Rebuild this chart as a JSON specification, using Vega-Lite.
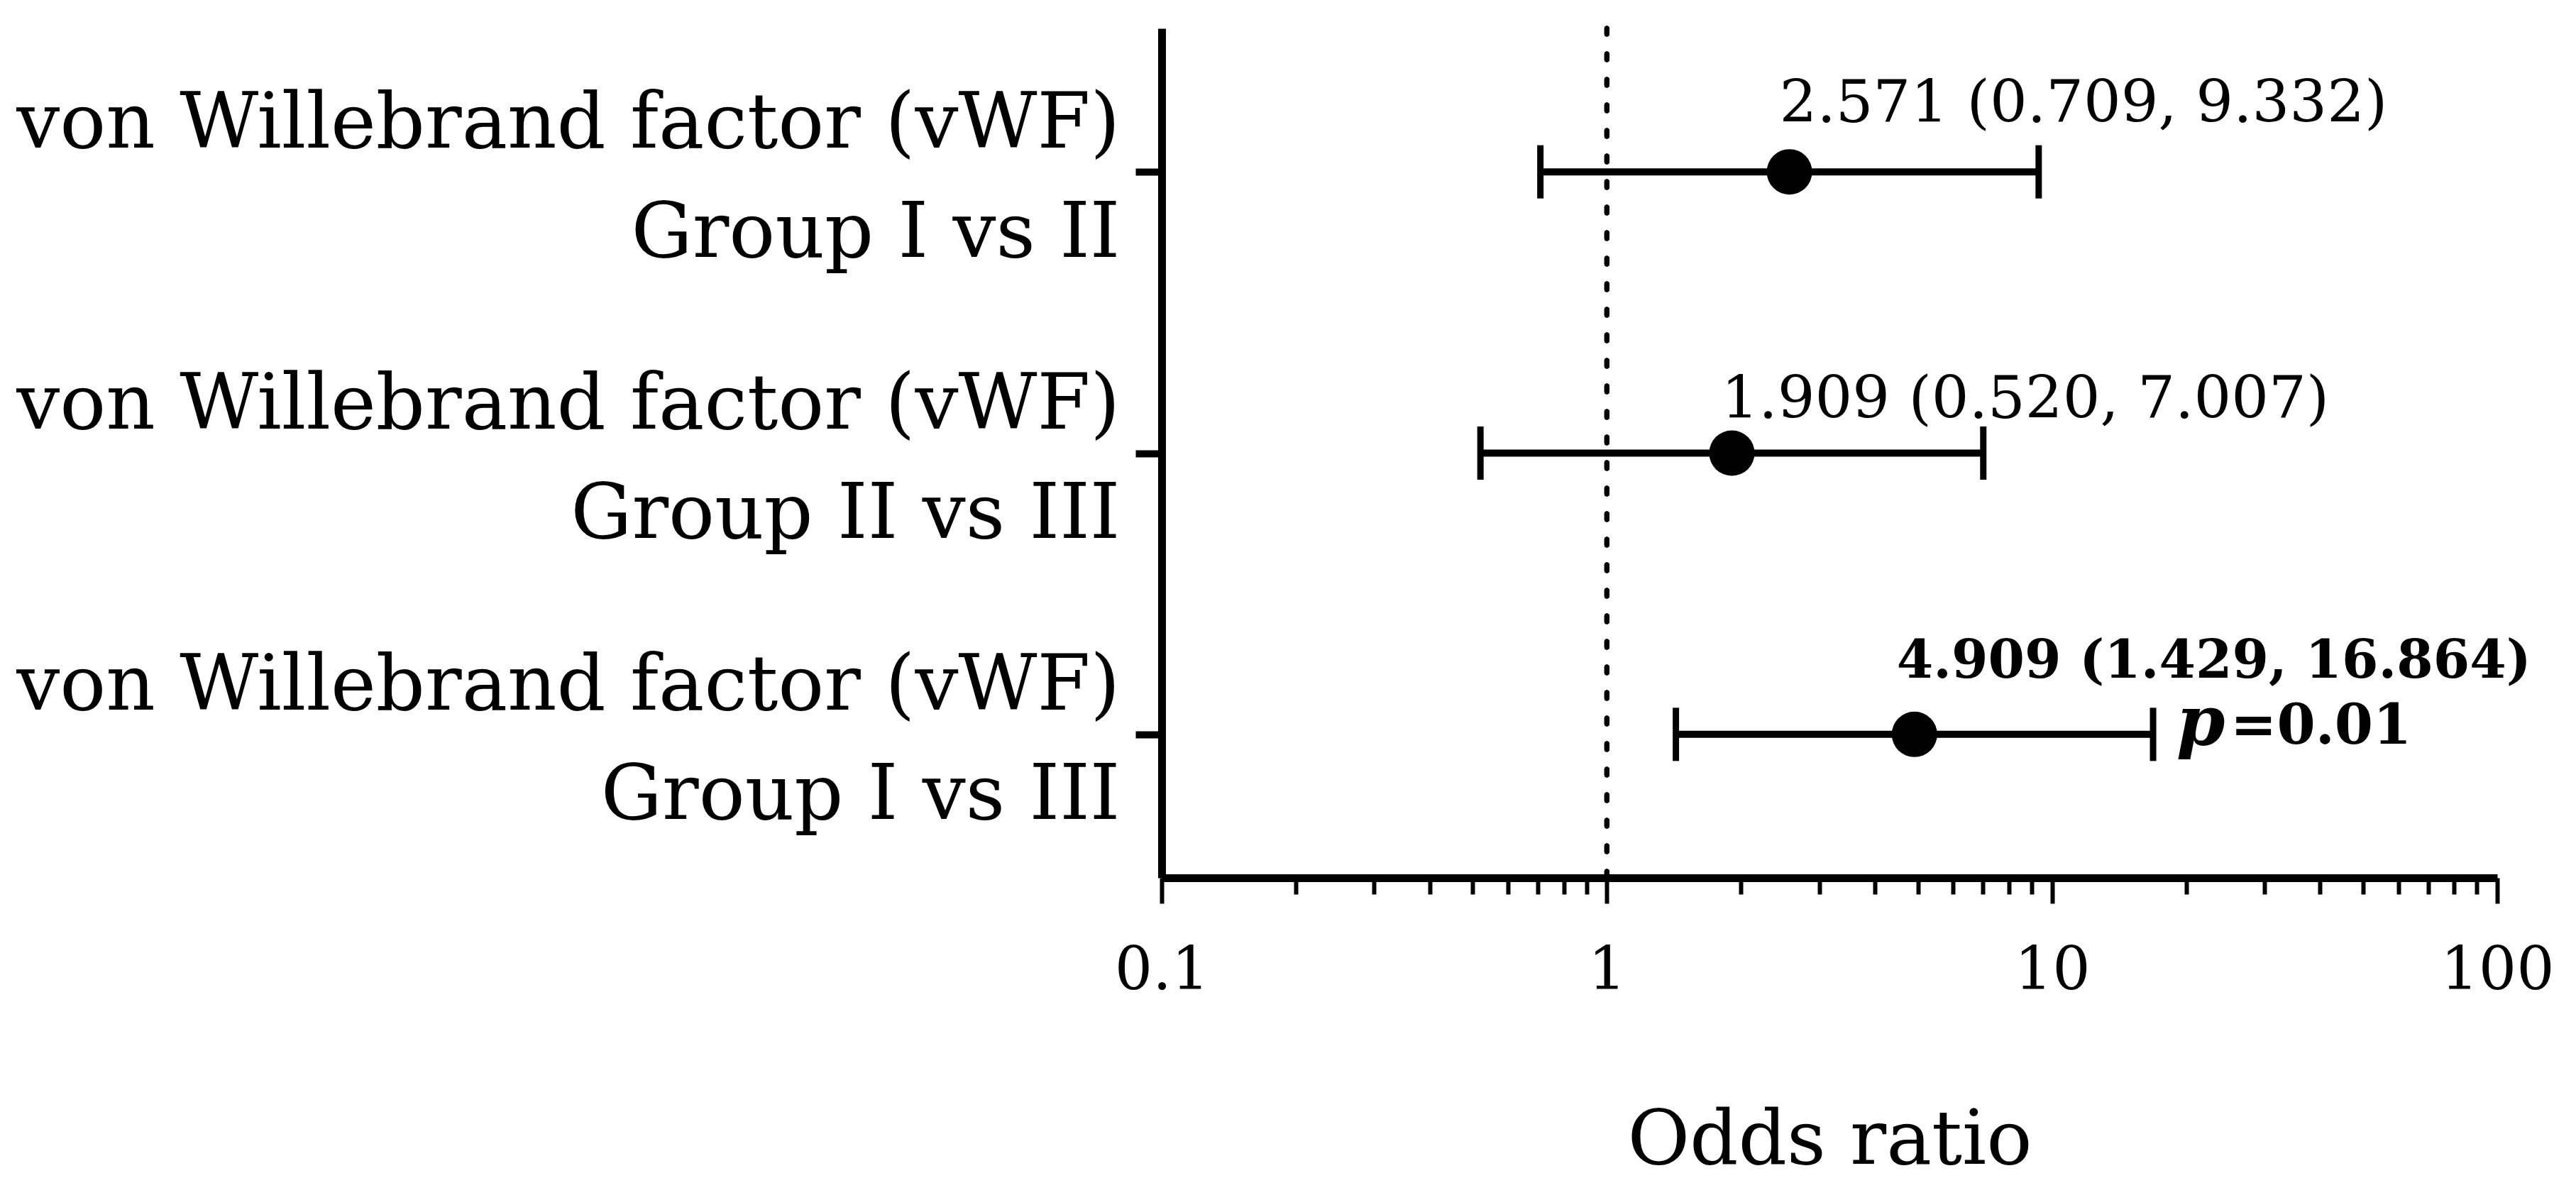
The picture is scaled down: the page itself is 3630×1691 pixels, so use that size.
{
  "$schema": "https://vega.github.io/schema/vega-lite/v6.json",
  "autosize": {"type": "none"},
  "padding": {"left": 1637, "top": 40, "right": 111, "bottom": 454},
  "width": 1882,
  "height": 1197,
  "background": "white",
  "config": {
    "view": {"stroke": null},
    "font": "DejaVu Serif",
    "axis": {"grid": false, "domainColor": "black", "tickColor": "black", "labelColor": "black", "titleColor": "black", "labelFont": "DejaVu Serif", "titleFont": "DejaVu Serif"}
  },
  "data": {
    "values": [
      {"label": "von Willebrand factor (vWF)|Group I vs II", "row": 1, "or": 2.571, "lo": 0.709, "hi": 9.332, "ci_text": "2.571 (0.709, 9.332)", "p_text": null},
      {"label": "von Willebrand factor (vWF)|Group II vs III", "row": 2, "or": 1.909, "lo": 0.520, "hi": 7.007, "ci_text": "1.909 (0.520, 7.007)", "p_text": null},
      {"label": "von Willebrand factor (vWF)|Group I vs III", "row": 3, "or": 4.909, "lo": 1.429, "hi": 16.864, "ci_text": "4.909 (1.429, 16.864)", "p_text": "=0.01"}
    ]
  },
  "layer": [
    {
      "mark": {"type": "rule", "color": "black", "strokeWidth": 7, "strokeDash": [8, 28], "strokeCap": "round"},
      "encoding": {
        "x": {"datum": 1, "type": "quantitative", "scale": {"type": "log", "domain": [0.1, 100], "nice": false}}
      }
    },
    {
      "encoding": {
        "y": {
          "field": "label", "type": "nominal", "sort": null,
          "scale": {"type": "point", "padding": 0.51},
          "axis": {"title": null, "labelExpr": "split(datum.label, '|')", "labelFontSize": 108, "labelLineHeight": 154, "labelPadding": 22, "labelOffset": -35, "tickSize": 37, "tickWidth": 10, "domainWidth": 11, "labelOverlap": false, "labelBound": false, "labelAlign": "right", "labelBaseline": "alphabetic", "labelLimit": 0}
        }
      },
      "layer": [
        {
          "mark": {"type": "rule", "color": "black", "strokeWidth": 10},
          "encoding": {
            "x": {"field": "lo", "type": "quantitative", "scale": {"type": "log", "domain": [0.1, 100], "nice": false},
              "axis": {
                "title": "Odds ratio",
                "values": [0.1, 0.2, 0.3, 0.4, 0.5, 0.6, 0.7, 0.8, 0.9, 1, 2, 3, 4, 5, 6, 7, 8, 9, 10, 20, 30, 40, 50, 60, 70, 80, 90, 100],
                "labelExpr": "datum.value == 0.1 ? '0.1' : datum.value == 1 ? '1' : datum.value == 10 ? '10' : datum.value == 100 ? '100' : ''",
                "tickSize": {"condition": {"test": "!(datum.value == 0.1 || datum.value == 1 || datum.value == 10 || datum.value == 100)", "value": 23}, "value": 36},
                "tickWidth": 6,
                "domainWidth": 11,
                "labelFontSize": 84,
                "labelPadding": 54,
                "titleFontSize": 107,
                "titleFontWeight": "normal",
                "titlePadding": 144,
                "labelOverlap": false,
                "labelFlush": false,
                "labelBound": false,
                "labelLimit": 0
              }
            },
            "x2": {"field": "hi"}
          }
        },
        {
          "mark": {"type": "tick", "color": "black", "size": 75, "thickness": 9, "opacity": 1},
          "encoding": {
            "x": {"field": "lo", "type": "quantitative", "scale": {"type": "log", "domain": [0.1, 100], "nice": false}}
          }
        },
        {
          "mark": {"type": "tick", "color": "black", "size": 75, "thickness": 9, "opacity": 1},
          "encoding": {
            "x": {"field": "hi", "type": "quantitative", "scale": {"type": "log", "domain": [0.1, 100], "nice": false}}
          }
        },
        {
          "mark": {"type": "point", "shape": "circle", "filled": true, "color": "black", "size": 4100, "opacity": 1},
          "encoding": {
            "x": {"field": "or", "type": "quantitative", "scale": {"type": "log", "domain": [0.1, 100], "nice": false}}
          }
        },
        {
          "transform": [{"filter": "datum.row == 1"}],
          "mark": {"type": "text", "align": "left", "baseline": "alphabetic", "dx": -14, "dy": -70, "fontSize": 83, "color": "black"},
          "encoding": {
            "x": {"field": "or", "type": "quantitative", "scale": {"type": "log", "domain": [0.1, 100], "nice": false}},
            "text": {"field": "ci_text"}
          }
        },
        {
          "transform": [{"filter": "datum.row == 2"}],
          "mark": {"type": "text", "align": "left", "baseline": "alphabetic", "dx": -15, "dy": -50, "fontSize": 83, "color": "black"},
          "encoding": {
            "x": {"field": "or", "type": "quantitative", "scale": {"type": "log", "domain": [0.1, 100], "nice": false}},
            "text": {"field": "ci_text"}
          }
        },
        {
          "transform": [{"filter": "datum.row == 3"}],
          "mark": {"type": "text", "align": "left", "baseline": "alphabetic", "dx": -25, "dy": -80, "fontSize": 74, "fontWeight": "bold", "color": "black"},
          "encoding": {
            "x": {"field": "or", "type": "quantitative", "scale": {"type": "log", "domain": [0.1, 100], "nice": false}},
            "text": {"field": "ci_text"}
          }
        },
        {
          "transform": [{"filter": "datum.p_text != null"}],
          "mark": {"type": "text", "align": "left", "baseline": "alphabetic", "dx": 33, "dy": 15, "fontSize": 98, "fontWeight": "bold", "fontStyle": "italic", "color": "black", "text": "p"},
          "encoding": {
            "x": {"field": "hi", "type": "quantitative", "scale": {"type": "log", "domain": [0.1, 100], "nice": false}}
          }
        },
        {
          "transform": [{"filter": "datum.p_text != null"}],
          "mark": {"type": "text", "align": "left", "baseline": "alphabetic", "dx": 109, "dy": 13, "fontSize": 78, "fontWeight": "bold", "color": "black"},
          "encoding": {
            "x": {"field": "hi", "type": "quantitative", "scale": {"type": "log", "domain": [0.1, 100], "nice": false}},
            "text": {"field": "p_text"}
          }
        }
      ]
    }
  ]
}
